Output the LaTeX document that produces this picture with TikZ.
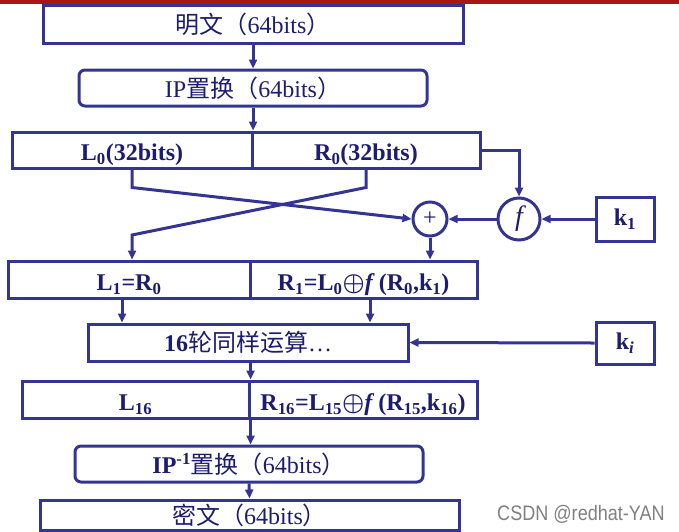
\documentclass[tikz,border=0pt]{standalone}
\usepackage{fontspec}
\setmainfont{Liberation Serif}
\newfontfamily\cjk{Noto Sans CJK SC}
\newfontfamily\wmfont{Liberation Sans}
\usetikzlibrary{arrows.meta}
\definecolor{lc}{RGB}{52,52,148}
\definecolor{tc}{RGB}{28,28,112}
\definecolor{redbar}{RGB}{168,22,22}
\definecolor{wmc}{RGB}{128,128,128}
\begin{document}
\begin{tikzpicture}[x=1pt,y=-1pt,
  box/.style={draw=lc, line width=3pt, rectangle, inner sep=0pt, text=tc, font=\fontsize{24}{28}\selectfont},
  kbox/.style={box, font=\fontsize{24}{28}\selectfont\bfseries},
  bbox/.style={kbox, text height=25pt, text depth=3.4pt},
  rbox/.style={box, rounded corners=6pt},
  opc/.style={draw=lc, line width=3pt, circle, inner sep=0pt, text=tc},
  arr/.style={draw=lc, line width=3pt, -{Triangle[length=9pt,width=8pt]}},
]
\useasboundingbox (0,0) rectangle (679,531);
\fill[redbar] (0,0) rectangle (679,3.5);

\node[box, minimum width=420, minimum height=38] (pt) at (253,24) {{\cjk 明文（}64bits{\cjk ）}};
\node[rbox, minimum width=348, minimum height=36] (ip) at (253,88) {IP{\cjk 置换（}64bits{\cjk ）}};
\node[bbox, minimum width=240, minimum height=36] (L0) at (132,150) {L\textsubscript{0}(32bits)};
\node[bbox, minimum width=228, minimum height=36] (R0) at (366,150) {R\textsubscript{0}(32bits)};
\node[opc, minimum size=34, font=\fontsize{24}{28}\selectfont] (xor) at (430,219) {+};
\node[opc, minimum size=42, font=\fontsize{28}{30}\selectfont\itshape] (f) at (519,219) {f};
\node[kbox, minimum width=58, minimum height=44] (k1) at (625,219) {k\textsubscript{1}};
\node[bbox, minimum width=242, minimum height=37] (L1) at (129,279.5) {L\textsubscript{1}=R\textsubscript{0}};
\node[bbox, minimum width=227, minimum height=37] (R1) at (363.5,279.5) {R\textsubscript{1}=L\textsubscript{0}{\boldmath$\oplus$}\textit{f}\,(R\textsubscript{0},k\textsubscript{1})};
\node[box, minimum width=320, minimum height=37] (r16) at (248,342.5) {\textbf{16}{\cjk 轮同样运算}…};
\node[kbox, minimum width=58, minimum height=42] (ki) at (625,343) {k\textsubscript{\textit{i}}};
\node[bbox, minimum width=227, minimum height=37] (L16) at (135.5,399.5) {L\textsubscript{16}};
\node[bbox, minimum width=228, minimum height=37] (R16) at (363,399.5) {R\textsubscript{16}=L\textsubscript{15}{\boldmath$\oplus$}\textit{f}\,(R\textsubscript{15},k\textsubscript{16})};
\node[rbox, minimum width=348, minimum height=36] (ipinv) at (249,464) {\textbf{IP\textsuperscript{-1}}{\cjk 置换（}64bits{\cjk ）}};
\node[box, minimum width=419, minimum height=30] (ct) at (249.5,515) {{\cjk 密文（}64bits{\cjk ）}};
\node[font=\wmfont\fontsize{21}{24}\selectfont, text=wmc, xscale=0.86] (wm) at (581,514) {CSDN @redhat-YAN};

\coordinate (bend) at (132,235);
\draw[arr] (pt.south) -- (ip.north);
\draw[arr] (ip.south) -- (ip.south |- L0.north);
\draw[arr] (L0.south) -- ++(0,18) -- (xor.west);
\draw[arr] (R0.south) -- ++(0,18) -- (bend) -- (L0.south |- L1.north);
\draw[arr] (R0.east) -| (f.north);
\draw[arr] (k1.west) -- (f.east);
\draw[arr] (f.west) -- (xor.east);
\draw[arr] (xor.south) -- (xor.south |- R1.north);
\draw[arr] ([xshift=-7pt]L1.south) -- ([xshift=-7pt]L1.south |- r16.north);
\draw[arr] ([xshift=6.5pt]R1.south) -- ([xshift=6.5pt]R1.south |- r16.north);
\draw[arr] (ki.west) -- (r16.east);
\draw[arr] (r16.south -| L16.east) -- (L16.north east);
\draw[arr] (L16.south east) -- (L16.south east |- ipinv.north);
\draw[arr] (ipinv.south) -- (ct.north);
\end{tikzpicture}
\end{document}
